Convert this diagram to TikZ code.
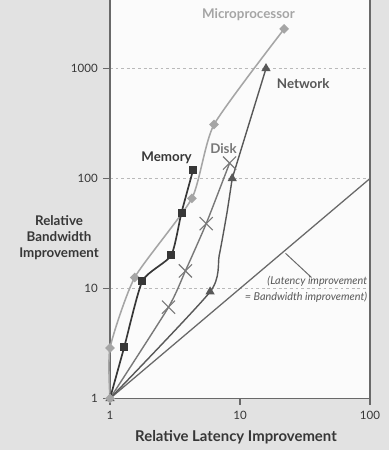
\documentclass[tikz,border=0pt]{standalone}
\usepackage{fontspec}
\setmainfont{Lato}
\usepackage{tikz}
\usetikzlibrary{positioning, shapes.geometric, shapes.misc}
\definecolor{panelGray}{RGB}{226,226,226}
\definecolor{plotWhite}{RGB}{251,251,251}
\definecolor{axisGray}{RGB}{105,105,105}
\definecolor{cpuGray}{RGB}{165,165,165}
\definecolor{memGray}{RGB}{55,55,55}
\definecolor{diskGray}{RGB}{120,120,120}
\definecolor{netGray}{RGB}{88,88,88}

\tikzset{
  cpumark/.style={diamond, fill=cpuGray, inner sep=0pt, minimum size=0.25cm},
  memmark/.style={rectangle, fill=memGray, inner sep=0pt, minimum size=0.2cm},
  diskmark/.style={cross out, draw=diskGray, line width=0.8pt, inner sep=0pt, minimum size=0.3cm},
  netmark/.style={regular polygon, regular polygon sides=3, fill=netGray, inner sep=0pt, minimum size=0.27cm},
  serieslabel/.style={font=\bfseries\fontsize{9.5}{11.4}\selectfont},
  ticklabel/.style={font=\fontsize{8.2}{10}\selectfont, text=memGray},
  gridline/.style={dash pattern=on 2pt off 2pt, draw=gray!55, line width=0.5pt},
}

\begin{document}
\begin{tikzpicture}[x=3.25cm, y=2.75cm]
    % panel and plot area (one decade = 3.25cm across, 2.75cm up)
    \useasboundingbox[fill=panelGray] (-2.75cm,-1.2875cm) rectangle (6.975cm,9.9625cm);
    \fill[plotWhite] (0,0) rectangle (2,3.623);
    \foreach \d in {1,2,3} \draw[gridline] (0,\d) -- (2,\d);
    \draw[axisGray, line width=0.8pt] (0,3.623) -- (0,0) -- (2,0) -- (2,3.623);
    \foreach \d/\t in {0/1,1/10,2/100}
        \draw[axisGray, line width=0.8pt] (\d,0) -- (\d,-0.055) node[ticklabel, below=1pt] (xt\d) {\t};
    \foreach \d/\t in {0/1,1/10,2/100,3/1000}
        \draw[axisGray, line width=0.8pt] (0,\d) -- (-0.054,\d) node[ticklabel, left=0pt] (yt\d) {\t};

    % latency = bandwidth
    \draw[axisGray, line width=0.9pt] (0,0) -- (2,2);
    \coordinate (leadA) at (1.35,1.32); \coordinate (leadB) at (1.55,1.10);
    \draw[axisGray, line width=0.7pt] (leadA) -- (leadB);
    \node[font=\itshape\fontsize{7.7}{11.4}\selectfont, text=netGray, align=right, anchor=east, inner sep=0pt] (eqlabel) at (1.98,0.99) {(Latency improvement\\= Bandwidth improvement)};

    % the four technologies
    \draw[diskGray, line width=1pt] plot[smooth, tension=0.35] coordinates {(0,0) (0.45,0.83) (0.58,1.16) (0.74,1.59) (0.92,2.14)};
    \draw[netGray, line width=1pt] plot[smooth, tension=0.35] coordinates {(0,0) (0.77,0.97) (0.84,1.30) (0.90,1.69) (0.94,2.0)} -- (1.20,3.0);
    \draw[cpuGray, line width=1.1pt] plot[smooth, tension=0.35] coordinates {(0,0) (0,0.46) (0.19,1.10) (0.63,1.82) (0.80,2.49) (1.34,3.36)};
    \draw[memGray, line width=1.2pt] plot[smooth, tension=0.35] coordinates {(0,0) (0.11,0.47) (0.25,1.07) (0.47,1.30) (0.55,1.69) (0.64,2.08)};
    \foreach \x/\y [count=\i] in {0.45/0.83, 0.58/1.16, 0.74/1.59, 0.92/2.14}
        \node[diskmark] (disk\i) at (\x,\y) {};
    \foreach \x/\y [count=\i] in {0/0, 0.77/0.97, 0.94/2.0, 1.20/3.0}
        \node[netmark] (net\i) at (\x,\y) {};
    \foreach \x/\y [count=\i] in {0/0, 0/0.46, 0.19/1.10, 0.63/1.82, 0.80/2.49, 1.34/3.36}
        \node[cpumark] (cpu\i) at (\x,\y) {};
    \foreach \x/\y [count=\i] in {0.11/0.47, 0.25/1.07, 0.47/1.30, 0.55/1.69, 0.64/2.08}
        \node[memmark] (mem\i) at (\x,\y) {};

    \node[serieslabel, text=cpuGray] (cpulabel) at (1.065,3.486) {Microprocessor};
    \node[serieslabel, text=netGray, anchor=west] (netlabel) at (1.246,2.86) {Network};
    \node[serieslabel, text=diskGray] (disklabel) at (0.873,2.268) {Disk};
    \node[serieslabel, text=memGray] (memlabel) at (0.435,2.186) {Memory};

    % axis titles
    \node[font=\bfseries\fontsize{10.6}{12}\selectfont, text=memGray] (xtitle) at (0.969,-0.35) {Relative Latency Improvement};
    \node[serieslabel, text=memGray, align=center] (ytitle) at (-0.392,1.459) {Relative\\Bandwidth\\Improvement};
\end{tikzpicture}
\end{document}
